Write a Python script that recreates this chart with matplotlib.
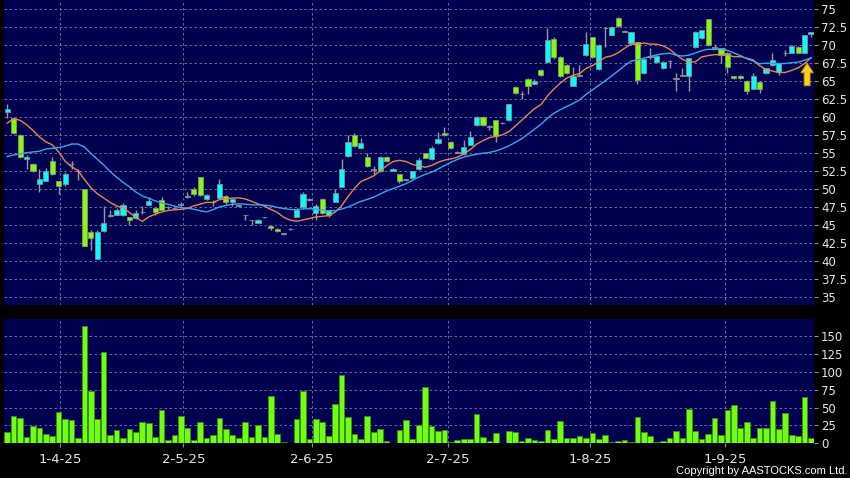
import matplotlib as mpl
import numpy as np
import pandas as pd

mpl.use("Agg")
import matplotlib.pyplot as plt
from matplotlib.patches import FancyArrow

# daily candles, oldest first
opens = [
    60.6, 59.8, 57.5, 54.1, 53.4, 50.6, 51.1, 53.8, 51.0, 50.6,
    53.4, 52.4, 49.9, 44.0, 40.3, 44.1, 46.2, 46.4, 46.3, 46.0,
    45.9, 46.7, 47.8, 47.3, 48.4, 47.4, 47.3, 47.75, 48.9, 50.0,
    51.6, 48.5, 48.1, 48.7, 49.0, 48.1, 47.6, 46.3, 45.6, 45.3,
    46.0, 44.8, 44.4, 43.75, 44.35, 46.1, 47.4, 48.6, 46.6, 48.6,
    46.4, 48.2, 50.3, 54.5, 57.5, 55.7, 54.4, 52.6, 52.4, 54.4,
    52.5, 52.0, 51.2, 51.5, 52.7, 54.9, 54.1, 56.3, 57.8, 56.5,
    55.0, 54.8, 56.1, 58.8, 60.0, 58.6, 59.5, 59.1, 59.5, 64.1,
    63.1, 65.3, 64.6, 66.5, 67.6, 70.8, 68.3, 67.2, 64.3, 65.7,
    68.5, 71.0, 66.6, 72.3, 71.4, 73.7, 71.8, 70.2, 70.3, 66.0,
    68.3, 67.6, 66.7, 67.7, 65.3, 65.7, 65.6, 69.7, 70.9, 73.5,
    69.6, 69.5, 68.9, 65.6, 65.7, 65.0, 63.9, 64.8, 66.0, 67.2,
    66.2, 68.8, 68.9, 69.7, 68.9, 71.5,
]
highs = [
    61.7, 59.9, 57.6, 54.7, 53.5, 52.8, 52.9, 54.4, 51.1, 52.3,
    53.9, 52.8, 49.9, 44.3, 44.2, 47.6, 47.0, 47.3, 48.0, 46.1,
    47.0, 47.6, 48.8, 47.5, 48.8, 47.6, 47.4, 48.1, 49.5, 50.2,
    51.6, 49.2, 48.4, 51.4, 49.1, 48.6, 47.7, 46.4, 45.7, 45.8,
    46.1, 44.9, 44.5, 43.9, 44.5, 47.3, 49.6, 48.7, 47.9, 48.7,
    47.1, 50.0, 54.1, 57.5, 57.8, 57.0, 54.9, 53.1, 54.5, 54.5,
    52.9, 52.1, 51.3, 52.5, 54.2, 55.0, 55.9, 57.9, 58.6, 56.6,
    55.2, 56.7, 58.0, 60.1, 60.1, 58.8, 59.6, 59.2, 61.8, 64.2,
    63.5, 65.4, 65.3, 66.6, 72.3, 71.0, 68.4, 67.3, 66.9, 67.2,
    71.8, 71.1, 70.1, 72.4, 72.6, 73.8, 72.0, 71.8, 70.4, 68.1,
    69.5, 68.5, 67.7, 67.9, 66.0, 66.7, 68.2, 71.9, 72.1, 73.6,
    70.1, 69.6, 69.0, 65.7, 65.8, 65.1, 66.0, 64.9, 66.8, 68.8,
    67.5, 69.2, 69.9, 69.8, 71.4, 71.8,
]
lows = [
    59.8, 57.6, 54.2, 52.8, 52.3, 49.6, 51.0, 51.9, 49.3, 50.4,
    52.7, 51.2, 42.0, 41.5, 40.3, 44.0, 46.0, 46.3, 46.2, 45.0,
    45.8, 46.5, 47.7, 46.3, 47.0, 47.2, 47.2, 47.5, 48.7, 49.0,
    49.0, 48.4, 47.6, 48.6, 47.9, 47.6, 47.5, 45.7, 45.0, 45.2,
    45.9, 44.3, 44.0, 43.6, 44.2, 46.0, 47.3, 48.3, 45.7, 46.5,
    46.1, 48.1, 50.2, 54.4, 55.8, 55.6, 53.0, 52.0, 52.3, 53.7,
    52.4, 50.8, 51.1, 51.4, 52.6, 54.2, 54.0, 56.2, 57.3, 55.5,
    54.9, 54.7, 56.0, 58.7, 58.7, 58.2, 56.5, 59.0, 59.4, 63.2,
    62.4, 63.2, 64.5, 65.7, 67.5, 68.0, 65.5, 65.9, 64.2, 65.5,
    68.4, 68.2, 66.5, 69.7, 71.3, 72.5, 71.7, 70.1, 64.6, 65.9,
    68.0, 67.5, 66.6, 66.7, 63.5, 65.6, 63.5, 69.6, 70.8, 69.8,
    69.5, 67.4, 66.1, 65.3, 65.3, 63.2, 63.8, 63.3, 65.9, 67.1,
    65.8, 68.4, 68.8, 68.8, 68.8, 71.1,
]
closes = [
    61.0, 57.7, 54.4, 54.4, 52.5, 51.4, 52.4, 52.0, 50.4, 52.0,
    53.4, 52.4, 42.0, 43.1, 44.0, 45.3, 46.4, 47.0, 47.8, 45.6,
    46.6, 46.7, 48.3, 46.8, 47.1, 47.4, 47.3, 47.75, 48.9, 49.3,
    49.1, 49.1, 48.1, 50.7, 48.2, 48.5, 47.6, 46.3, 45.6, 45.7,
    46.0, 44.5, 44.1, 43.75, 44.35, 47.0, 49.3, 48.4, 47.6, 46.6,
    47.0, 49.4, 52.8, 56.5, 55.9, 56.4, 53.1, 52.6, 54.4, 53.8,
    52.8, 51.1, 51.2, 52.4, 54.0, 54.3, 55.7, 56.9, 57.4, 55.6,
    55.0, 55.8, 57.2, 60.0, 58.8, 58.6, 57.3, 59.1, 61.7, 63.3,
    63.1, 64.2, 64.9, 65.8, 70.6, 68.3, 65.6, 66.0, 65.6, 65.7,
    70.1, 68.3, 70.0, 72.3, 72.5, 72.6, 71.8, 71.7, 65.1, 68.0,
    68.3, 68.4, 67.6, 67.7, 65.3, 65.7, 68.1, 71.8, 72.0, 69.9,
    69.6, 68.6, 66.9, 65.4, 65.4, 63.6, 65.6, 63.8, 66.7, 67.8,
    67.4, 68.8, 69.8, 68.9, 71.3, 71.7,
]
volumes = [
    15.4, 37.7, 35.4, 8.9, 24.7, 21.0, 12.6, 10.7, 44.3, 33.5,
    33.1, 7.0, 164.5, 72.7, 34.0, 128.0, 11.2, 18.2, 7.9, 19.6,
    15.4, 29.8, 28.9, 8.4, 47.0, 5.1, 11.6, 37.7, 21.0, 4.7,
    29.4, 7.0, 11.2, 35.9, 19.6, 11.6, 7.0, 29.4, 8.4, 25.2,
    8.9, 66.6, 13.5, 2.3, 1.0, 34.0, 73.6, 5.6, 33.5, 30.3,
    10.3, 55.0, 96.0, 37.3, 12.6, 6.0, 38.7, 15.8, 19.6, 3.3,
    0.5, 18.2, 33.0, 6.0, 25.2, 78.3, 23.8, 16.8, 19.0, 1.9,
    4.2, 6.5, 6.5, 40.5, 9.3, 2.8, 14.0, 0.5, 17.7, 15.8,
    2.8, 7.0, 4.2, 3.3, 18.2, 6.0, 30.8, 7.9, 7.0, 10.7,
    7.5, 14.4, 5.6, 11.2, 1.4, 3.3, 4.2, 2.3, 36.8, 15.4,
    10.7, 1.9, 3.7, 7.0, 17.2, 7.0, 48.0, 16.8, 6.5, 13.5,
    35.0, 11.6, 46.6, 53.6, 21.0, 29.8, 7.0, 21.0, 21.4, 59.6,
    19.6, 42.4, 11.2, 9.8, 64.2, 7.9,
]

# moving averages before enough history exists
ma10_head = [59.1, 59.7, 59.5, 58.9, 58.1, 57.2, 56.5, 56.1, 55.1]
ma20_head = [54.45, 54.7, 54.8, 55.0, 55.1, 55.2, 55.5, 55.6, 55.7, 55.9,
             56.2, 56.2, 55.8, 54.9, 54.1, 53.3, 52.4, 51.6, 50.9]

date_labels = ["1-4-25", "2-5-25", "2-6-25", "2-7-25", "1-8-25", "1-9-25"]
date_pos = [8.2, 27.4, 47.4, 68.5, 90.7, 111.6]

BG = "#000050"
UP = "#00ffff"
DOWN = "#80ff00"
FLAT = "#a0a0a0"
GRID = "#7c7ca8"
TXT = "#e6e6e6"

o = np.asarray(opens)
h = np.asarray(highs)
lo = np.asarray(lows)
c = np.asarray(closes)
x = np.arange(len(c))

ma10 = pd.Series(c).rolling(10).mean().to_numpy()
ma10[: len(ma10_head)] = ma10_head
ma20 = pd.Series(c).rolling(20).mean().to_numpy()
ma20[: len(ma20_head)] = ma20_head

W, H = 850, 478
fig = plt.figure(figsize=(W / 100, H / 100), dpi=100, facecolor="black")
ax = fig.add_axes([4 / W, 173 / H, 810 / W, 305 / H])
axv = fig.add_axes([4 / W, 34.7 / H, 810 / W, 124.3 / H], sharex=ax)

for a in (ax, axv):
    a.set_facecolor(BG)
    for s in a.spines.values():
        s.set_visible(False)
    a.grid(True, color=GRID, ls=(0, (3, 3)), lw=0.6)
    a.set_axisbelow(True)
    a.yaxis.tick_right()
    a.tick_params(axis="y", direction="out", length=3, width=0.8, color="#909090",
                  labelcolor=TXT, labelsize=8.5, pad=2)

# candles
colors = np.where(c > o, UP, np.where(c < o, DOWN, FLAT))
ax.vlines(x, lo, h, color="#9a9a9a", lw=1, zorder=2)
body = np.maximum(np.abs(c - o), 0.08)
ax.bar(x, body, bottom=np.minimum(o, c), width=0.8, color=colors,
       edgecolor="#8c8c8c", lw=0.6, zorder=3)
ax.plot(x, ma10, color="#e8884c", lw=1, zorder=4)
ax.plot(x, ma20, color="#3aa6f0", lw=1, zorder=4)

# marker under the latest bar
ax.add_patch(FancyArrow(x[-1] - 0.6, 64.3, 0, 3.1, width=0.9, head_width=1.9,
                        head_length=1.3, length_includes_head=True,
                        facecolor="#ffd21f", edgecolor="#d99a00", lw=0.8, zorder=5))

ax.set_xlim(-0.5, 125.47)
ax.set_ylim(33.85, 76.2)
ax.set_yticks(np.arange(35, 75.1, 2.5))
ax.yaxis.set_major_formatter(mpl.ticker.FormatStrFormatter("%g"))
ax.tick_params(axis="x", length=0, labelbottom=False)

# volume
axv.bar(x, volumes, width=0.88, color="#70ff10", edgecolor="#3c8c14", lw=0.6, zorder=3)
axv.set_ylim(0, 173.8)
axv.set_yticks(np.arange(0, 151, 25))
axv.set_xticks(date_pos)
axv.set_xticklabels(date_labels)
axv.tick_params(axis="x", direction="out", length=3, color="#909090",
                labelcolor=TXT, labelsize=9.5, pad=4)

fig.text(848 / W, 6.5 / H, "Copyright by AASTOCKS.com Ltd.", ha="right", va="center",
         color="white", fontsize=8, family="Liberation Sans")

fig.savefig("out.png", dpi=100, facecolor="black")
plt.close(fig)
